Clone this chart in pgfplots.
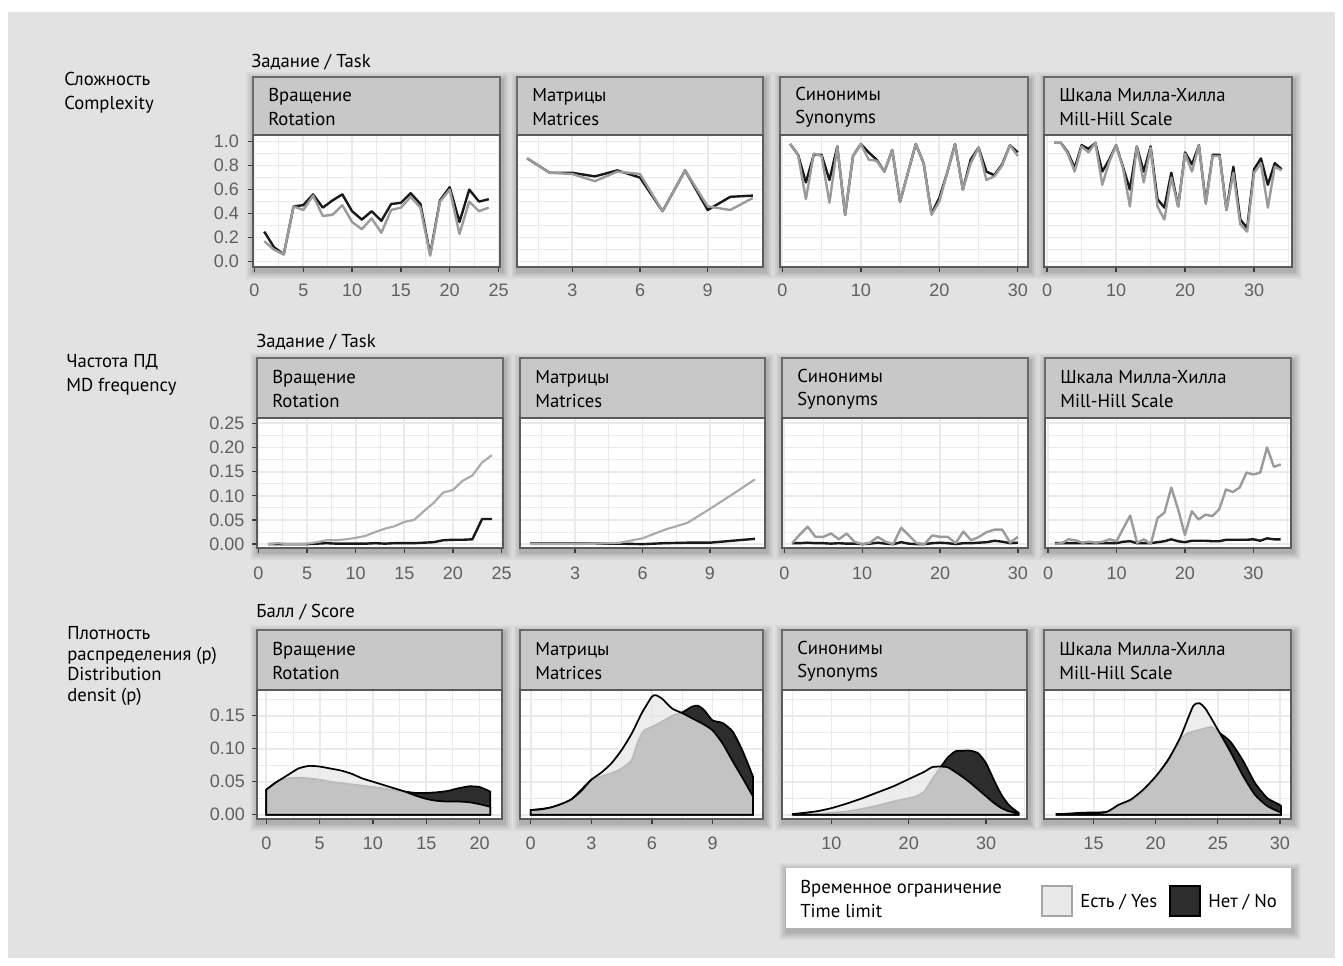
\documentclass[border=0pt]{standalone}
\usepackage{fontspec}
\setmainfont{PT Sans}
\newfontfamily\tickfont{Liberation Sans}
\usepackage{pgfplots}
\pgfplotsset{compat=1.18}
\definecolor{bgc}{RGB}{226,226,226}
\definecolor{gridc}{RGB}{234,234,234}
\definecolor{framec}{RGB}{90,90,90}
\definecolor{stripc}{RGB}{200,200,200}
\definecolor{stripb}{RGB}{105,105,105}
\definecolor{tickc}{RGB}{60,60,60}
\definecolor{tlc}{RGB}{95,95,95}
\definecolor{lineg}{RGB}{155,155,155}
\definecolor{linek}{RGB}{25,25,25}
\definecolor{lightc}{RGB}{233,233,233}
\definecolor{darkc}{RGB}{45,45,45}
\pgfplotsset{
  panel/.style={
    scale only axis, anchor=south west,
    axis background/.style={fill=white},
    grid=both,
    major grid style={draw=gridc, line width=1.3pt},
    minor grid style={draw=gridc, line width=0.7pt},
    minor tick length=0pt,
    major tick length=3.5pt,
    tick align=outside, tick pos=left,
    axis line style={draw=framec, line width=0.9pt},
    tick style={draw=tickc, line width=1pt},
    ticklabel style={font=\tickfont\fontsize{13.5}{13.5}\selectfont, text=tlc},
    /pgf/number format/assume math mode=true,
    scaled ticks=false,
  },
  noy/.style={yticklabels={}, ytick style={draw=none}},
  r1/.style={panel, height=99pt, ymin=-0.045, ymax=1.055,
    ytick={0,0.2,0.4,0.6,0.8,1}, minor ytick={0.1,0.3,0.5,0.7,0.9},
    xticklabel style={yshift=-5.5pt},
    yticklabel style={xshift=-3.5pt, /pgf/number format/.cd, fixed, fixed zerofill, precision=1}},
  r2/.style={panel, height=97.5pt, ymin=-0.008, ymax=0.261,
    ytick={0,0.05,0.1,0.15,0.2,0.25}, minor ytick={0.025,0.075,0.125,0.175,0.225},
    xticklabel style={yshift=-7pt},
    yticklabel style={xshift=-2.5pt, /pgf/number format/.cd, fixed, fixed zerofill, precision=2}},
  r3/.style={panel, height=96.75pt, ymin=-0.0065, ymax=0.189,
    ytick={0,0.05,0.1,0.15}, minor ytick={0.025,0.075,0.125,0.175},
    xticklabel style={yshift=-6.5pt},
    yticklabel style={xshift=-2pt, /pgf/number format/.cd, fixed, fixed zerofill, precision=2}},
  blk/.style={draw=linek, line width=1.8pt, mark=none, line join=round},
  gry/.style={draw=lineg, line width=1.8pt, mark=none, line join=round},
  gry2/.style={draw=lineg!85, line width=1.6pt, mark=none, line join=round},
  dno/.style={fill=darkc, draw=black, line width=1.3pt, smooth, tension=0.35, mark=none},
  dyes/.style={fill=lightc, fill opacity=0.8, draw=black, line width=1.3pt, smooth, tension=0.35, mark=none},
}
\newcommand\shad[4]{%
  \foreach \s/\o in {8/0.04,6/0.05,4/0.06,2/0.08} {%
    \fill[black,opacity=\o] (#1-\s+1,#2-\s+3) rectangle (#3+\s+2,#4+\s+4);}}
\newcommand\strip[6]{%
  \draw[fill=stripc, draw=stripb, line width=0.9pt] (#1,#2) rectangle (#3,#4);
  \node[anchor=west, align=left, font=\fontsize{14}{17.5}\selectfont, inner sep=0pt] at (#1+15,{(#2+#4)/2+1}) {#5\\#6};}
\begin{document}
\begin{tikzpicture}
\begin{scope}[x=0.75pt,y=-0.75pt]
\useasboundingbox (0,0) rectangle (1343,966);
\fill[white] (0,0) rectangle (1343,966);
\fill[bgc] (8,12) rectangle (1335,958);
% shadows
\shad{253}{77}{500}{267}\shad{517}{77}{763}{267}\shad{780}{77}{1028}{267}\shad{1044}{77}{1292}{267}
\shad{257}{358}{503}{548}\shad{520}{358}{765}{548}\shad{782}{358}{1028}{548}\shad{1045}{358}{1291}{548}
\shad{257}{630}{502}{819}\shad{520}{630}{763}{819}\shad{782}{630}{1027}{819}\shad{1044}{630}{1291}{819}
\shad{786}{868}{1291}{928}
% strips
\strip{253}{77}{500}{135}{Вращение}{Rotation}
\strip{517}{77}{763}{135}{Матрицы}{Matrices}
\strip{780}{77}{1028}{135}{Синонимы}{Synonyms}
\strip{1044}{77}{1292}{135}{Шкала Милла-Хилла}{Mill-Hill Scale}
\strip{257}{358}{503}{418}{Вращение}{Rotation}
\strip{520}{358}{765}{418}{Матрицы}{Matrices}
\strip{782}{358}{1028}{418}{Синонимы}{Synonyms}
\strip{1045}{358}{1291}{418}{Шкала Милла-Хилла}{Mill-Hill Scale}
\strip{257}{630}{502}{690}{Вращение}{Rotation}
\strip{520}{630}{763}{690}{Матрицы}{Matrices}
\strip{782}{630}{1027}{690}{Синонимы}{Synonyms}
\strip{1044}{630}{1291}{690}{Шкала Милла-Хилла}{Mill-Hill Scale}
% row titles
\node[anchor=west, align=left, font=\fontsize{14}{18}\selectfont, inner sep=0pt] at (64,93) {Сложность\\Complexity};
\node[anchor=west, font=\fontsize{14}{18}\selectfont, inner sep=0pt] at (251,62) {Задание / Task};
\node[anchor=west, align=left, font=\fontsize{14}{18}\selectfont, inner sep=0pt] at (66,375) {Частота ПД\\MD frequency};
\node[anchor=west, font=\fontsize{14}{18}\selectfont, inner sep=0pt] at (256,342) {Задание / Task};
\node[anchor=west, align=left, font=\fontsize{14}{15.5}\selectfont, inner sep=0pt] at (67,666) {Плотность\\распределения (p)\\Distribution\\densit (p)};
\node[anchor=west, font=\fontsize{14}{18}\selectfont, inner sep=0pt] at (256,612) {Балл / Score};
% legend
\fill[white] (786,868) rectangle (1291,928);
\node[anchor=west, align=left, font=\fontsize{14}{18}\selectfont, inner sep=0pt] at (800,899) {Временное ограничение\\Time limit};
\draw[fill=lightc, draw=gray!70, line width=0.8pt] (1042,886) rectangle (1072,916);
\node[anchor=west, font=\fontsize{14}{18}\selectfont, inner sep=0pt] at (1080,902) {Есть / Yes};
\draw[fill=darkc, draw=black, line width=0.8pt] (1170,886) rectangle (1200,916);
\node[anchor=west, font=\fontsize{14}{18}\selectfont, inner sep=0pt] at (1208,902) {Нет / No};
\end{scope}

% ================= ROW 1: complexity =================
\begin{axis}[r1, at={(189.75pt,-200.25pt)}, width=185.25pt, xmin=-0.15, xmax=25.15,
  xtick={0,5,10,15,20,25}, minor xtick={2.5,7.5,12.5,17.5,22.5}]
\addplot[blk] coordinates {(1,0.25)(2,0.12)(3,0.06)(4,0.46)(5,0.47)(6,0.56)(7,0.45)(8,0.51)(9,0.56)(10,0.42)(11,0.35)(12,0.42)(13,0.34)(14,0.48)(15,0.49)(16,0.57)(17,0.48)(18,0.06)(19,0.51)(20,0.62)(21,0.33)(22,0.60)(23,0.50)(24,0.52)};
\addplot[gry] coordinates {(1,0.17)(2,0.10)(3,0.06)(4,0.46)(5,0.43)(6,0.55)(7,0.38)(8,0.39)(9,0.47)(10,0.33)(11,0.27)(12,0.36)(13,0.24)(14,0.43)(15,0.45)(16,0.54)(17,0.45)(18,0.05)(19,0.50)(20,0.60)(21,0.23)(22,0.50)(23,0.42)(24,0.45)};
\end{axis}
\begin{axis}[r1, noy, at={(387.75pt,-200.25pt)}, width=184.5pt, xmin=0.55, xmax=11.45,
  xtick={3,6,9}, minor xtick={1.5,4.5,7.5,10.5}]
\addplot[blk] coordinates {(1,0.86)(2,0.74)(3,0.74)(4,0.71)(5,0.76)(6,0.70)(7,0.42)(8,0.76)(9,0.43)(10,0.54)(11,0.55)};
\addplot[gry] coordinates {(1,0.86)(2,0.74)(3,0.73)(4,0.67)(5,0.75)(6,0.73)(7,0.42)(8,0.76)(9,0.46)(10,0.43)(11,0.53)};
\end{axis}
\begin{axis}[r1, noy, at={(585pt,-200.25pt)}, width=186pt, xmin=-0.3, xmax=31.3,
  xtick={0,10,20,30}, minor xtick={5,15,25}]
\addplot[blk] coordinates {(1,0.98)(2,0.89)(3,0.66)(4,0.89)(5,0.89)(6,0.68)(7,0.96)(8,0.39)(9,0.88)(10,0.98)(11,0.91)(12,0.85)(13,0.75)(14,0.93)(15,0.50)(16,0.74)(17,0.98)(18,0.82)(19,0.40)(20,0.53)(21,0.74)(22,0.98)(23,0.60)(24,0.85)(25,0.95)(26,0.75)(27,0.72)(28,0.81)(29,0.97)(30,0.91)};
\addplot[gry] coordinates {(1,0.98)(2,0.89)(3,0.52)(4,0.90)(5,0.88)(6,0.49)(7,0.96)(8,0.39)(9,0.88)(10,0.98)(11,0.85)(12,0.84)(13,0.75)(14,0.93)(15,0.50)(16,0.74)(17,0.98)(18,0.82)(19,0.39)(20,0.50)(21,0.74)(22,0.98)(23,0.60)(24,0.82)(25,0.95)(26,0.68)(27,0.71)(28,0.80)(29,0.97)(30,0.88)};
\end{axis}
\begin{axis}[r1, noy, at={(783pt,-200.25pt)}, width=186pt, xmin=-0.45, xmax=35.5,
  xtick={0,10,20,30}, minor xtick={5,15,25,35}]
\addplot[blk] coordinates {(1,0.99)(2,0.99)(3,0.91)(4,0.78)(5,0.97)(6,0.94)(7,0.99)(8,0.75)(9,0.85)(10,0.97)(11,0.79)(12,0.60)(13,0.96)(14,0.75)(15,0.96)(16,0.52)(17,0.45)(18,0.74)(19,0.46)(20,0.91)(21,0.81)(22,0.97)(23,0.49)(24,0.89)(25,0.89)(26,0.43)(27,0.79)(28,0.35)(29,0.28)(30,0.77)(31,0.86)(32,0.64)(33,0.82)(34,0.77)};
\addplot[gry] coordinates {(1,0.99)(2,0.99)(3,0.90)(4,0.75)(5,0.96)(6,0.91)(7,0.99)(8,0.64)(9,0.83)(10,0.97)(11,0.78)(12,0.46)(13,0.96)(14,0.66)(15,0.95)(16,0.46)(17,0.35)(18,0.70)(19,0.46)(20,0.90)(21,0.75)(22,0.97)(23,0.48)(24,0.88)(25,0.88)(26,0.43)(27,0.74)(28,0.31)(29,0.25)(30,0.74)(31,0.82)(32,0.45)(33,0.79)(34,0.76)};
\end{axis}

% ================= ROW 2: MD frequency =================
\begin{axis}[r2, at={(192.75pt,-411pt)}, width=184.5pt, xmin=-0.15, xmax=25.15,
  xtick={0,5,10,15,20,25}, minor xtick={2.5,7.5,12.5,17.5,22.5}]
\addplot[blk] coordinates {(1,0)(2,0)(3,0)(4,0)(5,0)(6,0.001)(7,0.002)(8,0.001)(9,0.001)(10,0.001)(11,0.001)(12,0.002)(13,0.001)(14,0.002)(15,0.002)(16,0.002)(17,0.003)(18,0.004)(19,0.008)(20,0.009)(21,0.009)(22,0.010)(23,0.052)(24,0.052)};
\addplot[gry2] coordinates {(1,0.000)(2,0.002)(3,0.000)(4,0.000)(5,0.001)(6,0.004)(7,0.008)(8,0.008)(9,0.010)(10,0.013)(11,0.017)(12,0.025)(13,0.032)(14,0.037)(15,0.046)(16,0.050)(17,0.068)(18,0.085)(19,0.107)(20,0.112)(21,0.131)(22,0.142)(23,0.169)(24,0.184)};
\end{axis}
\begin{axis}[r2, noy, at={(390pt,-411pt)}, width=183.75pt, xmin=0.55, xmax=11.45,
  xtick={3,6,9}, minor xtick={1.5,4.5,7.5,10.5}]
\addplot[blk] coordinates {(1,0.001)(2,0.001)(3,0.001)(4,0.001)(5,0.001)(6,0.000)(7,0.002)(8,0.003)(9,0.003)(10,0.007)(11,0.011)};
\addplot[gry2] coordinates {(1,0)(2,0)(3,0)(4,0.001)(5,0.003)(6,0.012)(7,0.030)(8,0.044)(9,0.073)(10,0.103)(11,0.134)};
\end{axis}
\begin{axis}[r2, noy, at={(586.5pt,-411pt)}, width=184.5pt, xmin=-0.3, xmax=31.3,
  xtick={0,10,20,30}, minor xtick={5,15,25}]
\addplot[blk] coordinates {(1,0.002)(2,0.002)(3,0.003)(4,0.002)(5,0.002)(6,0.001)(7,0.002)(8,0.001)(9,0.001)(10,0.000)(11,0.001)(12,0.003)(13,0.001)(14,0.000)(15,0.004)(16,0.001)(17,0.000)(18,0.000)(19,0.002)(20,0.003)(21,0.002)(22,0.000)(23,0.002)(24,0.002)(25,0.003)(26,0.004)(27,0.007)(28,0.005)(29,0.002)(30,0.003)};
\addplot[gry] coordinates {(1,0.002)(2,0.020)(3,0.036)(4,0.015)(5,0.015)(6,0.022)(7,0.010)(8,0.022)(9,0.005)(10,0.000)(11,0.003)(12,0.015)(13,0.005)(14,0.000)(15,0.034)(16,0.018)(17,0.002)(18,0.000)(19,0.018)(20,0.015)(21,0.015)(22,0.002)(23,0.026)(24,0.008)(25,0.015)(26,0.025)(27,0.030)(28,0.030)(29,0.003)(30,0.015)};
\end{axis}
\begin{axis}[r2, noy, at={(783.75pt,-411pt)}, width=184.5pt, xmin=-0.45, xmax=35.5,
  xtick={0,10,20,30}, minor xtick={5,15,25,35}]
\addplot[blk] coordinates {(1,0.002)(2,0.002)(3,0.002)(4,0.002)(5,0.002)(6,0.002)(7,0.002)(8,0.002)(9,0.002)(10,0.002)(11,0.005)(12,0.006)(13,0.002)(14,0.002)(15,0.002)(16,0.004)(17,0.006)(18,0.010)(19,0.006)(20,0.004)(21,0.007)(22,0.007)(23,0.007)(24,0.006)(25,0.006)(26,0.009)(27,0.009)(28,0.009)(29,0.009)(30,0.010)(31,0.007)(32,0.012)(33,0.010)(34,0.010)};
\addplot[gry] coordinates {(1,0.000)(2,0.002)(3,0.010)(4,0.008)(5,0.003)(6,0.005)(7,0.003)(8,0.005)(9,0.010)(10,0.006)(11,0.033)(12,0.059)(13,0.003)(14,0.010)(15,0.000)(16,0.054)(17,0.065)(18,0.117)(19,0.072)(20,0.019)(21,0.068)(22,0.051)(23,0.061)(24,0.058)(25,0.072)(26,0.113)(27,0.108)(28,0.117)(29,0.148)(30,0.144)(31,0.148)(32,0.200)(33,0.160)(34,0.165)};
\end{axis}

% ================= ROW 3: densities =================
\begin{axis}[r3, at={(192.75pt,-614.25pt)}, width=183.75pt, xmin=-0.875, xmax=22.1,
  xtick={0,5,10,15,20}, minor xtick={2.5,7.5,12.5,17.5}]
\addplot[dno] coordinates {(0,0.038)(1,0.050)(2,0.055)(3,0.056)(4,0.055)(5,0.053)(6,0.050)(7,0.048)(8,0.046)(9,0.044)(10,0.042)(11,0.040)(12,0.037)(13,0.035)(14,0.033)(15,0.033)(16,0.034)(17,0.036)(18,0.040)(19,0.043)(20,0.042)(21,0.035)} \closedcycle;
\addplot[dyes] coordinates {(0,0.038)(1,0.050)(2,0.060)(3,0.070)(4,0.074)(5,0.073)(6,0.070)(7,0.067)(8,0.062)(9,0.055)(10,0.050)(11,0.045)(12,0.040)(13,0.035)(14,0.029)(15,0.024)(16,0.021)(17,0.020)(18,0.020)(19,0.019)(20,0.016)(21,0.012)} \closedcycle;
\end{axis}
\begin{axis}[r3, noy, at={(390pt,-614.25pt)}, width=182.25pt, xmin=-0.53, xmax=11.5,
  xtick={0,3,6,9}, minor xtick={1.5,4.5,7.5,10.5}]
\addplot[dno] coordinates {(0,0.007)(1,0.011)(2,0.023)(3,0.053)(3.5,0.058)(4,0.063)(4.5,0.070)(5,0.083)(5.3,0.110)(5.6,0.127)(6,0.133)(6.5,0.141)(7,0.150)(7.5,0.155)(8,0.164)(8.3,0.165)(8.6,0.158)(9,0.143)(9.5,0.139)(10,0.126)(10.5,0.096)(11,0.058)} \closedcycle;
\addplot[dyes] coordinates {(0,0.007)(0.5,0.008)(1,0.011)(1.5,0.016)(2,0.023)(2.5,0.036)(3,0.053)(3.5,0.064)(4,0.078)(4.5,0.098)(5,0.123)(5.5,0.154)(6,0.179)(6.2,0.181)(6.5,0.176)(7,0.161)(7.5,0.154)(8,0.146)(8.5,0.138)(9,0.128)(9.5,0.108)(10,0.081)(10.5,0.055)(11,0.028)} \closedcycle;
\end{axis}
\begin{axis}[r3, noy, at={(586.5pt,-614.25pt)}, width=183.75pt, xmin=3.6, xmax=35.3,
  xtick={10,20,30}, minor xtick={5,15,25,35}]
\addplot[dno] coordinates {(5,0.000)(8,0.001)(10,0.003)(12,0.005)(14,0.009)(16,0.014)(18,0.020)(20,0.025)(21,0.028)(22,0.035)(23,0.053)(24,0.070)(25,0.086)(26,0.096)(27,0.097)(28,0.097)(29,0.093)(30,0.078)(31,0.053)(32,0.030)(33,0.014)(34.2,0.003)} \closedcycle;
\addplot[dyes] coordinates {(5,0.001)(8,0.005)(10,0.010)(12,0.017)(14,0.025)(16,0.034)(18,0.043)(20,0.054)(22,0.065)(23,0.072)(24,0.073)(25,0.072)(26,0.065)(27,0.057)(28,0.048)(29,0.038)(30,0.028)(31,0.018)(32,0.010)(33,0.005)(34.2,0.002)} \closedcycle;
\end{axis}
\begin{axis}[r3, noy, at={(783pt,-614.25pt)}, width=185.25pt, xmin=11.0, xmax=30.9,
  xtick={15,20,25,30}, minor xtick={12.5,17.5,22.5,27.5}]
\addplot[dno] coordinates {(12,0.000)(14,0.003)(16,0.004)(17,0.013)(18,0.020)(19,0.035)(20,0.055)(21,0.083)(22,0.113)(22.5,0.123)(23,0.126)(24,0.131)(24.5,0.133)(25,0.126)(26,0.111)(27,0.083)(28,0.048)(29,0.025)(30,0.015)(30.1,0.012)} \closedcycle;
\addplot[dyes] coordinates {(12,0.001)(14,0.002)(16,0.004)(17,0.015)(18,0.023)(19,0.038)(20,0.058)(21,0.083)(22,0.118)(23,0.164)(23.5,0.169)(24,0.161)(25,0.129)(26,0.096)(27,0.060)(28,0.030)(29,0.013)(30,0.004)(30.1,0.004)} \closedcycle;
\end{axis}
\end{tikzpicture}
\end{document}
